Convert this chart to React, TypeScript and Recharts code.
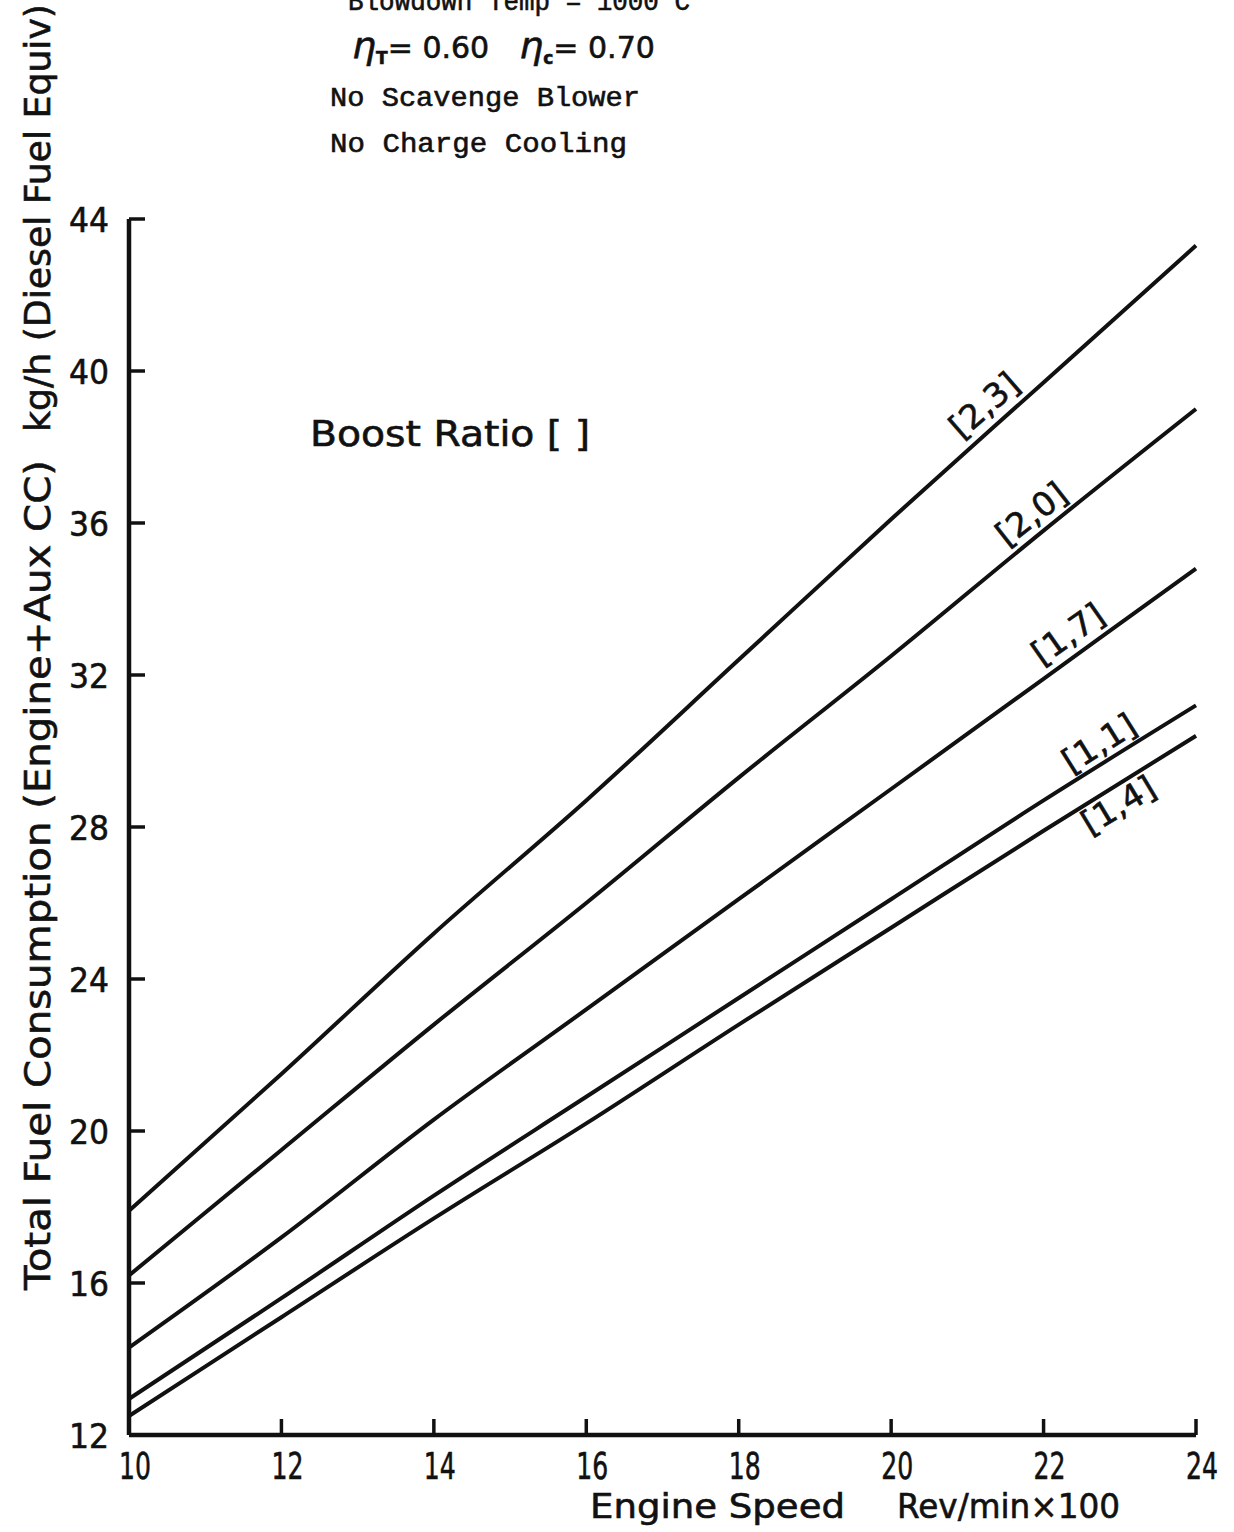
import React from 'react';
import { LineChart, Line, XAxis, YAxis, ReferenceDot } from 'recharts';

// Engine speed (Rev/min x100)
const speed = [10, 12, 14, 16, 18, 20, 22, 24];

// Total fuel consumption, kg/h, one array per boost ratio
const boost23 = [17.9, 21.5, 25.2, 28.7, 32.4, 36.1, 39.7, 43.3];
const boost20 = [16.2, 19.5, 22.8, 26.0, 29.3, 32.5, 35.8, 39.0];
const boost17 = [14.3, 17.2, 20.3, 23.2, 26.1, 29.0, 31.9, 34.8];
const boost11 = [12.95, 15.6, 18.3, 20.9, 23.5, 26.1, 28.7, 31.2];
const boost14 = [12.5, 15.1, 17.7, 20.2, 22.8, 25.35, 27.9, 30.4];

const xTicks = [10, 12, 14, 16, 18, 20, 22, 24];
const yTicks = [12, 16, 20, 24, 28, 32, 36, 40, 44];

// curve tags, anchored in data coordinates
const tagText = ['[2,3]', '[2,0]', '[1,7]', '[1,1]', '[1,4]'];
const tagSpeed = [21.22, 21.84, 22.32, 22.73, 22.98];
const tagFuel = [39.1, 36.24, 33.08, 30.21, 28.58];
const tagAngle = [41, 38, 35, 32, 31];

const series = ['b23', 'b20', 'b17', 'b11', 'b14'];

const data = speed.map((s, i) => ({
  speed: s,
  b23: boost23[i],
  b20: boost20[i],
  b17: boost17[i],
  b11: boost11[i],
  b14: boost14[i],
}));

const W = 1234;
const H = 1532;
const INK = '#111';
const ROUND = '"DejaVu Sans", sans-serif';
const MONO = '"Liberation Mono", "DejaVu Sans Mono", monospace';

// heavier look, like the pen lettering of the original
const pen = { stroke: INK, strokeWidth: 0.6 };

function XTick({ x, y, payload }: any) {
  const v = payload.value;
  const label = String(v);
  return (
    <g>
      {v !== 10 && (
        <line x1={x} y1={y} x2={x} y2={y - 16} stroke={INK} strokeWidth={3.5} />
      )}
      <text
        x={x + 6}
        y={y + 44}
        textAnchor="middle"
        fontSize={37}
        fontFamily={ROUND}
        fill={INK}
        {...pen}
        textLength={label.length * 16}
        lengthAdjust="spacingAndGlyphs"
      >
        {label}
      </text>
    </g>
  );
}

function YTick({ x, y, payload }: any) {
  const v = payload.value;
  const label = String(v);
  return (
    <g>
      {v !== 12 && (
        <line x1={x} y1={y} x2={x + 16} y2={y} stroke={INK} strokeWidth={3.5} />
      )}
      <text
        x={x - 20}
        y={y + 13}
        textAnchor="end"
        fontSize={34}
        fontFamily={ROUND}
        fill={INK}
        {...pen}
        textLength={label.length * 20}
        lengthAdjust="spacingAndGlyphs"
      >
        {label}
      </text>
    </g>
  );
}

function CurveTag({ cx, cy, text, angle }: any) {
  return (
    <text
      x={cx}
      y={cy}
      transform={`rotate(${-angle} ${cx} ${cy})`}
      textAnchor="middle"
      dominantBaseline="central"
      fontSize={33}
      fontFamily={ROUND}
      fill={INK}
      {...pen}
      textLength={text.length * 16}
      lengthAdjust="spacingAndGlyphs"
    >
      {text}
    </text>
  );
}

function Squeezed({ x, y, len, size, rot = 0, family = ROUND, children }: any) {
  return (
    <text
      x={x}
      y={y}
      transform={rot ? `rotate(${rot} ${x} ${y})` : undefined}
      fontSize={size}
      fontFamily={family}
      fill={INK}
      {...pen}
      textLength={len}
      lengthAdjust="spacingAndGlyphs"
    >
      {children}
    </text>
  );
}

export default function App() {
  return (
    <div
      style={{
        position: 'absolute',
        top: 0,
        left: 0,
        width: W,
        height: H,
        background: '#fff',
        overflow: 'hidden',
      }}
    >
      <LineChart
        width={W}
        height={H}
        data={data}
        margin={{ top: 219, right: 38, bottom: 57, left: 0 }}
      >
        <XAxis
          dataKey="speed"
          type="number"
          domain={[10, 24]}
          ticks={xTicks}
          interval={0}
          height={40}
          tickSize={0}
          tickMargin={0}
          tick={<XTick />}
          axisLine={{ stroke: INK, strokeWidth: 4.5 }}
        />
        <YAxis
          type="number"
          domain={[12, 44]}
          ticks={yTicks}
          interval={0}
          width={129}
          tickSize={0}
          tickMargin={0}
          tick={<YTick />}
          axisLine={{ stroke: INK, strokeWidth: 4.5 }}
        />
        {series.map((key) => (
          <Line
            key={key}
            dataKey={key}
            type="monotone"
            stroke={INK}
            strokeWidth={4}
            dot={false}
            activeDot={false}
            isAnimationActive={false}
          />
        ))}
        {tagText.map((t, i) => (
          <ReferenceDot
            key={t}
            x={tagSpeed[i]}
            y={tagFuel[i]}
            r={0}
            shape={(p: any) => (
              <CurveTag cx={p.cx} cy={p.cy} text={t} angle={tagAngle[i]} />
            )}
          />
        ))}
      </LineChart>

      {/* annotations and axis titles */}
      <svg
        width={W}
        height={H}
        style={{ position: 'absolute', top: 0, left: 0, pointerEvents: 'none' }}
      >
        <Squeezed x={348} y={10} len={342} size={27} family={MONO}>
          Blowdown Temp = 1000 C
        </Squeezed>
        <text x={352} y={58} fontSize={30} fontFamily={ROUND} fill={INK} {...pen}>
          <tspan fontStyle="italic" fontSize={38}>η</tspan>
          <tspan fontSize={17} dy={6} fontWeight="bold">T</tspan>
          <tspan dy={-6}>= 0.60</tspan>
          <tspan dx={30} fontStyle="italic" fontSize={38}>η</tspan>
          <tspan fontSize={17} dy={6} fontWeight="bold">c</tspan>
          <tspan dy={-6}>= 0.70</tspan>
        </text>
        <Squeezed x={330} y={106} len={310} size={28} family={MONO}>
          No Scavenge Blower
        </Squeezed>
        <Squeezed x={330} y={152} len={297} size={28} family={MONO}>
          No Charge Cooling
        </Squeezed>
        <Squeezed x={310} y={446} len={280} size={35}>
          Boost Ratio [ ]
        </Squeezed>
        <Squeezed x={590} y={1518} len={255} size={33}>
          Engine Speed
        </Squeezed>
        <Squeezed x={897} y={1518} len={223} size={33}>
          Rev/min×100
        </Squeezed>
        <Squeezed x={50} y={1290} len={830} size={36} rot={-90}>
          Total Fuel Consumption (Engine+Aux CC)
        </Squeezed>
        <Squeezed x={50} y={432} len={428} size={36} rot={-90}>
          kg/h (Diesel Fuel Equiv)
        </Squeezed>
      </svg>
    </div>
  );
}
